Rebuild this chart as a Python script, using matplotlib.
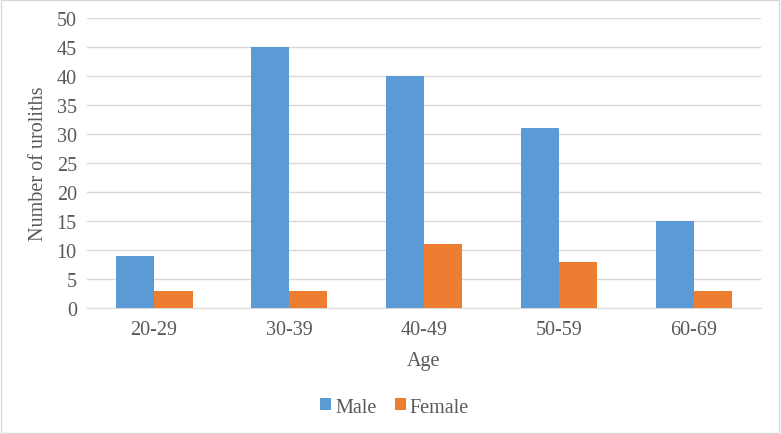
import numpy as np
import matplotlib.pyplot as plt
from matplotlib.patches import Rectangle

# data
ages = ["20-29", "30-39", "40-49", "50-59", "60-69"]
male = [9, 45, 40, 31, 15]
female = [3, 3, 11, 8, 3]

txt = "#595959"
fs = 14.5
plt.rcParams['font.family'] = ['Liberation Serif', 'DejaVu Serif']

fig = plt.figure(figsize=(7.81, 4.35), dpi=100)
ax = fig.add_axes([0.1108, 0.2897, 0.8642, 0.6666])

x = np.arange(len(ages))
w = 0.285
ax.bar(x - w/2, male, w, color="#5B9BD5", label="Male", zorder=3)
ax.bar(x + w/2, female, w, color="#ED7D31", label="Female", zorder=3)

ax.set_xlim(-0.5, len(ages) - 0.5)
ax.set_ylim(0, 50)
ax.set_yticks(range(0, 51, 5))
ax.set_xticks(x)
ax.set_xticklabels(ages)
ax.grid(axis='y', color="#D9D9D9", linewidth=1, zorder=0)
for s in ['top', 'right', 'left']:
    ax.spines[s].set_visible(False)
ax.spines['bottom'].set_color("#D9D9D9")
ax.tick_params(length=0, labelsize=fs, colors=txt)
ax.tick_params(axis='x', pad=9)
ax.tick_params(axis='y', pad=7)
ax.set_xlabel("Age", fontsize=fs, color=txt, labelpad=8)
ax.set_ylabel("Number of uroliths", fontsize=fs, color=txt, labelpad=6)

leg = fig.legend(loc='center', bbox_to_anchor=(0.505, 0.062), ncol=2, frameon=False,
                 fontsize=fs, handlelength=0.55, handleheight=0.55, handletextpad=0.2,
                 columnspacing=0.9)
for t in leg.get_texts():
    t.set_color(txt)

fig.patches.append(Rectangle((0.001, 0.002), 0.997, 0.995, transform=fig.transFigure,
                             fill=False, edgecolor="#D9D9D9", linewidth=1))

fig.savefig("out.png", dpi=100)
